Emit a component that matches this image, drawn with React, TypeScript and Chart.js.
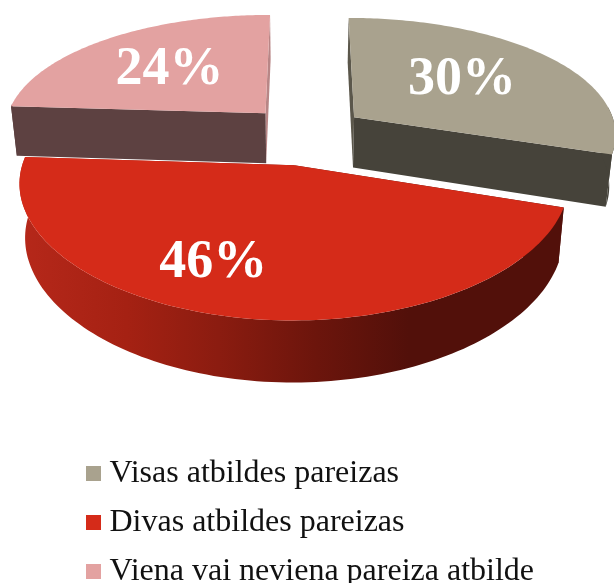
import React, { useEffect, useRef } from "react";
import { Chart, registerables } from "chart.js";

Chart.register(...registerables);

const categories = ["Visas atbildes pareizas", "Divas atbildes pareizas", "Viena vai neviena pareiza atbilde"];
const shares = [30, 46, 24];
const topColors = ["#a9a28e", "#d52b19", "#e3a2a1"];
const wallColors = ["#46433a", "", "#5d4141"];
const stripColors = ["#5b574b", "", "#b88686"];

// tilted-view settings
const VIEW = { xc: 306, yc: 134.5, R: 263.4, A: 120, p: 0.1575, px: 0.13, explodeX: 0.23, explodeY: 0.25, sinkX: 300, sinkK: 0.98 };
const LABEL_SHIFT = [[108, -37], [-81, 98], [-96, -43]];
const SERIF = "'Liberation Serif', serif";

function project(wx: number, wv: number) {
  return {
    x: VIEW.xc + (VIEW.R * wx) / (1 - VIEW.px * wv),
    y: VIEW.yc + (VIEW.A * wv) / (1 - VIEW.p * wv),
  };
}
function sink(pt: { x: number; y: number }) {
  const d = 50 + 0.058 * (pt.y - 113);
  return { x: VIEW.sinkX + (pt.x - VIEW.sinkX) * VIEW.sinkK, y: pt.y + d };
}
function offsetOf(el: any) {
  const mid = (el.startAngle + el.endAngle) / 2;
  const k = el.options.offset / 50;
  return { ox: Math.cos(mid) * VIEW.explodeX * k, ov: Math.sin(mid) * VIEW.explodeY * k };
}

const pie3d = {
  id: "pie3d",
  beforeDatasetDraw(chart: any, args: any) {
    const ctx = chart.ctx;
    const arcs = args.meta.data;
    const order = [0, 2, 1];
    for (const i of order) {
      const el = arcs[i];
      const { ox, ov } = offsetOf(el);
      const apex = project(ox, ov);
      const rim: { x: number; y: number }[] = [];
      const frontRim: { x: number; y: number }[] = [];
      const N = 120;
      for (let k = 0; k <= N; k++) {
        const a = el.startAngle + ((el.endAngle - el.startAngle) * k) / N;
        const pt = project(ox + Math.cos(a), ov + Math.sin(a));
        rim.push(pt);
        if (Math.sin(a) > -0.1) frontRim.push(pt);
      }
      const trace = (pts: { x: number; y: number }[]) => {
        ctx.beginPath();
        pts.forEach((p, j) => (j ? ctx.lineTo(p.x, p.y) : ctx.moveTo(p.x, p.y)));
        ctx.closePath();
      };
      let wall: any = wallColors[i];
      if (!wall) {
        const g = ctx.createLinearGradient(18, 0, 560, 0);
        g.addColorStop(0, "#b6281a");
        g.addColorStop(0.2, "#a52113");
        g.addColorStop(0.37, "#8b1c10");
        g.addColorStop(0.55, "#6c150c");
        g.addColorStop(0.72, "#52100a");
        g.addColorStop(1, "#52100a");
        wall = g;
      }
      ctx.save();
      const first = rim[0];
      const last = rim[N];
      const backEnd = i === 0 ? first : last;
      const frontEnd = i === 0 ? last : first;
      ctx.fillStyle = stripColors[i] || wall;
      trace([apex, backEnd, sink(backEnd), sink(apex)]);
      ctx.fill();
      ctx.fillStyle = wall;
      trace([apex, frontEnd, sink(frontEnd), sink(apex)]);
      ctx.fill();
      if (frontRim.length > 1) {
        trace([...frontRim, ...frontRim.slice().reverse().map(sink)]);
        ctx.fill();
      }
      ctx.fillStyle = el.options.backgroundColor;
      trace([apex, ...rim]);
      ctx.fill();
      ctx.restore();
    }
    return false;
  },
  afterDatasetsDraw(chart: any) {
    const ctx = chart.ctx;
    chart.getDatasetMeta(0).data.forEach((el: any, i: number) => {
      const { ox, ov } = offsetOf(el);
      const apex = project(ox, ov);
      ctx.save();
      ctx.fillStyle = "#ffffff";
      ctx.font = `bold 54px ${SERIF}`;
      ctx.textAlign = "center";
      ctx.textBaseline = "middle";
      ctx.fillText(`${shares[i]}%`, apex.x + LABEL_SHIFT[i][0], apex.y + LABEL_SHIFT[i][1]);
      ctx.restore();
    });
  },
};

export default function App() {
  const ref = useRef<HTMLCanvasElement>(null);
  useEffect(() => {
    const chart = new Chart(ref.current as HTMLCanvasElement, {
      type: "pie",
      data: {
        labels: categories,
        datasets: [{ data: shares, backgroundColor: topColors, borderWidth: 0, offset: 50 }],
      },
      options: {
        animation: false,
        responsive: false,
        layout: { padding: { left: 76.5, bottom: -14.5 } },
        plugins: {
          tooltip: { enabled: false },
          legend: {
            position: "bottom",
            align: "start",
            maxWidth: 520,
            labels: {
              color: "#111111",
              font: { family: SERIF, size: 32, lineHeight: 1.1 },
              padding: 17,
              usePointStyle: true,
              pointStyle: "rect",
              boxWidth: 0.01,
              boxHeight: 15,
            },
          },
        },
      },
      plugins: [pie3d],
    } as any);
    return () => chart.destroy();
  }, []);
  return (
    <div style={{ position: "fixed", left: 0, top: 0, width: 614, height: 583 }}>
      <canvas ref={ref} width={614} height={583} style={{ display: "block" }} />
    </div>
  );
}
